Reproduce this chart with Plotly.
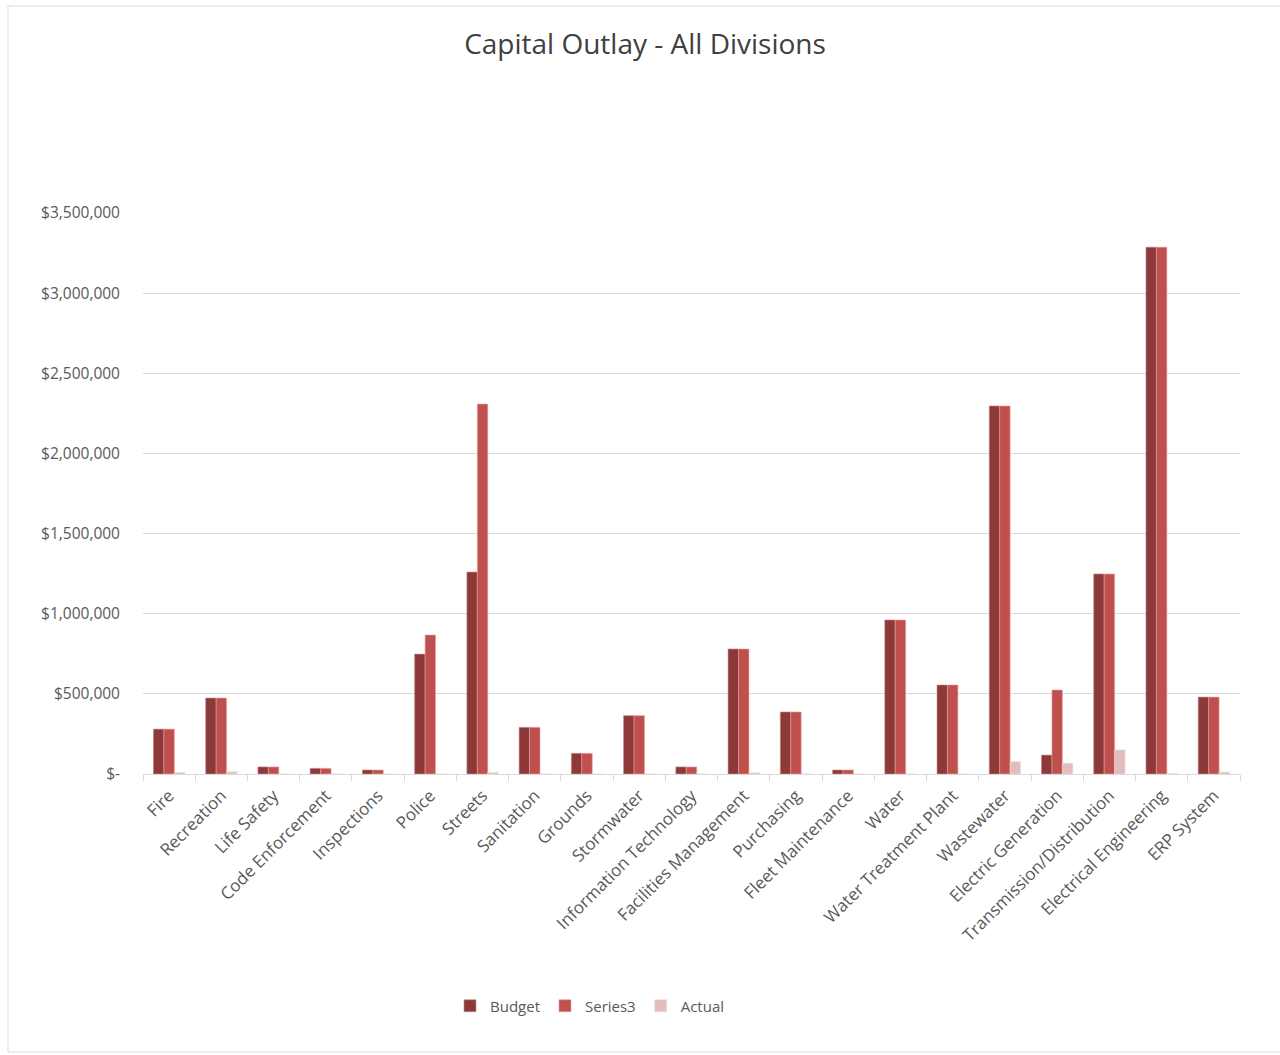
import plotly.graph_objects as go

categories = ["Fire", "Recreation", "Life Safety", "Code Enforcement", "Inspections", "Police",
              "Streets", "Sanitation", "Grounds", "Stormwater", "Information Technology",
              "Facilities Management", "Purchasing", "Fleet Maintenance", "Water",
              "Water Treatment Plant", "Wastewater", "Electric Generation",
              "Transmission/Distribution", "Electrical Engineering", "ERP System"]

budget = [280000, 474000, 44000, 35000, 25000, 748000, 1260000, 291000, 129000, 364000, 44000,
          780000, 387000, 25000, 961000, 555000, 2296000, 118000, 1248000, 3287000, 480000]
series3 = [280000, 474000, 44000, 35000, 25000, 867000, 2308000, 291000, 129000, 364000, 44000,
           780000, 387000, 25000, 961000, 555000, 2296000, 524000, 1248000, 3287000, 480000]
actual = [10000, 14000, 0, 0, 0, 0, 10000, 0, 0, 0, 0,
          8000, 0, 0, 0, 0, 77000, 67000, 150000, 3000, 12000]

y_tickvals = [0, 500000, 1000000, 1500000, 2000000, 2500000, 3000000, 3500000]
y_ticktext = ["$-", "$500,000", "$1,000,000", "$1,500,000", "$2,000,000",
              "$2,500,000", "$3,000,000", "$3,500,000"]

series_names = ["Budget", "Series3", "Actual"]
colors = ["#8E3939", "#C0504D", "#E3BCBD"]
edge = ["#C98686", "#E8A3A1", "#F2DCDC"]

FONT = "Open Sans"
GRAY = "#595959"

fig = go.Figure()
for name, vals, c, e in zip(series_names, [budget, series3, actual], colors, edge):
    fig.add_trace(go.Bar(x=categories, y=vals, name=name, marker_color=c,
                         marker_line_color=e, marker_line_width=0.6))

L, R, T, B = 143, 40, 213, 281
W, H = 1280, 1055
pw, ph = W - L - R, H - T - B

def px_x(x):
    return (x - L) / pw

def px_y(y):
    return (H - B - y) / ph

fig.update_layout(
    width=W, height=H,
    margin=dict(l=L, r=R, t=T, b=B),
    paper_bgcolor="white", plot_bgcolor="white",
    barmode="group", bargap=0.4, bargroupgap=0,
    font=dict(family=FONT, color=GRAY, size=14),
    title=dict(text="Capital Outlay - All Divisions", x=645 / W, xref="container",
               xanchor="center", y=1 - 44 / H, yanchor="middle",
               font=dict(size=28, color="#404040", family=FONT)),
    legend=dict(orientation="h", x=px_x(590), xanchor="center",
                y=px_y(1006), yanchor="middle", font=dict(size=15, color=GRAY),
                traceorder="normal", itemwidth=30),
    xaxis=dict(tickangle=-45, showline=True, linecolor="#D9D9D9", linewidth=1,
               ticks="outside", tickson="boundaries", ticklen=6, tickcolor="#D9D9D9",
               tickfont=dict(size=17, color=GRAY), showgrid=False, ticklabelstandoff=4),
    yaxis=dict(range=[0, 3500000], tickvals=y_tickvals, ticktext=y_ticktext,
               showgrid=True, gridcolor="#D9D9D9", gridwidth=1, zeroline=False,
               tickfont=dict(size=15.5, color=GRAY), ticks="", ticklabelstandoff=22),
    shapes=[dict(type="rect", xref="paper", yref="paper",
                 x0=px_x(8), x1=px_x(1300), y0=px_y(1052), y1=px_y(6),
                 line=dict(color="#D9D9D9", width=1), fillcolor="rgba(0,0,0,0)",
                 layer="below")],
)

fig.write_html("out.html")
